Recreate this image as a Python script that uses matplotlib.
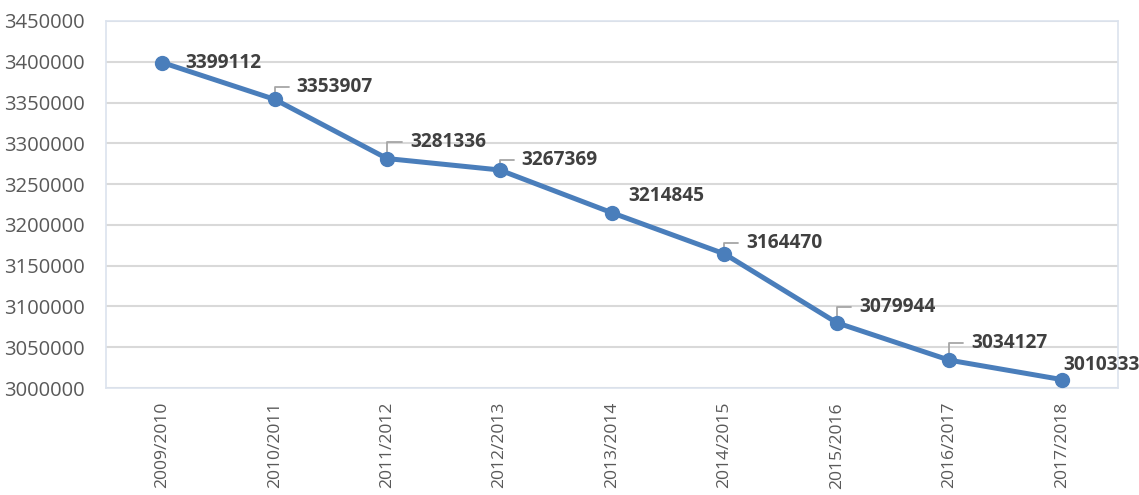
import matplotlib
matplotlib.use("Agg")
import matplotlib.pyplot as plt

plt.rcParams['font.family'] = ['Open Sans', 'DejaVu Sans']

years = ["2009/2010", "2010/2011", "2011/2012", "2012/2013", "2013/2014",
         "2014/2015", "2015/2016", "2016/2017", "2017/2018"]
values = [3399112, 3353907, 3281336, 3267369, 3214845,
          3164470, 3079944, 3034127, 3010333]
yticks = [3000000, 3050000, 3100000, 3150000, 3200000,
          3250000, 3300000, 3350000, 3400000, 3450000]

# label offsets in pixels (text left edge, text vertical center) and leader flag
label_offsets = [(23, 0, False), (22, 12, True), (23, 17, True), (22, 10, True),
                 (16, 17, False), (22, 11, True), (22, 16, True), (22, 17, True),
                 (2, 15, False)]

W, H = 1139, 495
fig = plt.figure(figsize=(W / 100, H / 100), dpi=100)
ax = fig.add_axes([106 / W, (H - 388) / H, (1118 - 106) / W, (388 - 21) / H])

xs = list(range(len(years)))
line_color = '#4a7ebb'
ax.plot(xs, values, color=line_color, lw=3.6, marker='o', markersize=10,
        markerfacecolor=line_color, markeredgecolor=line_color, zorder=4,
        solid_capstyle='round')

ax.set_xlim(-0.5, len(years) - 0.5)
ax.set_ylim(3000000, 3450000)
ax.set_yticks(yticks)
ax.set_yticklabels([str(v) for v in yticks])
ax.set_xticks(xs)
ax.set_xticklabels(years, rotation=90)

ax.tick_params(axis='y', length=0, pad=15, labelsize=14.5, labelcolor='#595959')
ax.tick_params(axis='x', length=0, pad=10, labelsize=12.6, labelcolor='#595959')

ax.grid(axis='y', color='#d9d9d9', lw=1.5, zorder=0)
ax.set_axisbelow(True)
for s in ax.spines.values():
    s.set_color('#dce3ee')
    s.set_linewidth(1.2)

for x, v, (dx, dy, lead) in zip(xs, values, label_offsets):
    ax.annotate(str(v), xy=(x, v), xytext=(dx, dy), textcoords='offset pixels',
                ha='left', va='center', fontsize=13.8, fontweight='bold',
                color='#404040', zorder=6)
    if lead:
        ax.annotate('', xy=(x, v), xytext=(dx - 8, dy), textcoords='offset pixels',
                    arrowprops=dict(arrowstyle='-', color='#a6a6a6', lw=1.3,
                                    connectionstyle='angle,angleA=0,angleB=90,rad=0',
                                    shrinkA=0, shrinkB=5, patchA=None),
                    zorder=3)

fig.savefig('out.png', dpi=100)
